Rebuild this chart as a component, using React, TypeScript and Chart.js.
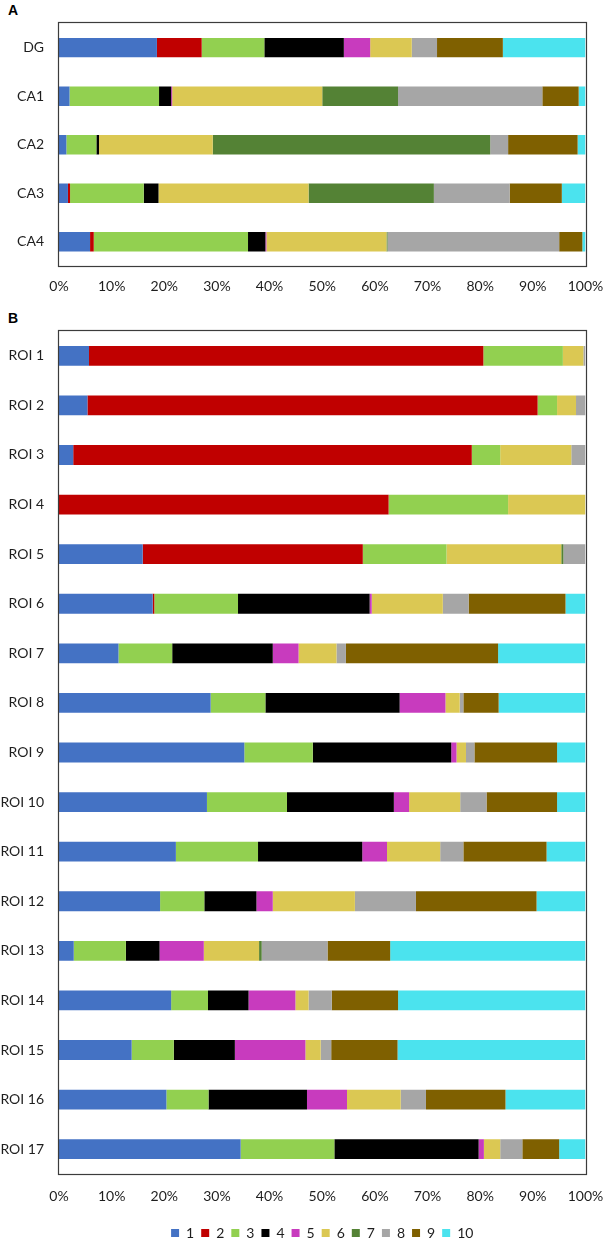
import React, { useEffect, useRef } from 'react';
import { Chart, registerables } from 'chart.js';

Chart.register(...registerables);

// ---------- data ----------
const seriesNames = ['1', '2', '3', '4', '5', '6', '7', '8', '9', '10'];
const seriesColors = ['#4472C4', '#C00000', '#92D050', '#000000', '#C83BBE', '#DBC853', '#548235', '#A6A6A6', '#7F6000', '#4BE3EE'];

const xTickValues = [0, 10, 20, 30, 40, 50, 60, 70, 80, 90, 100];

// Panel A
const panelACategories = ['DG', 'CA1', 'CA2', 'CA3', 'CA4'];
const panelA1 = [18.6, 2.0, 1.4, 1.7, 5.9];
const panelA2 = [8.5, 0, 0, 0.4, 0.7];
const panelA3 = [11.9, 17.0, 5.7, 14.0, 29.3];
const panelA4 = [15.1, 2.3, 0.5, 2.8, 3.3];
const panelA5 = [5.0, 0.2, 0, 0, 0.2];
const panelA6 = [7.9, 28.5, 21.6, 28.5, 22.8];
const panelA7 = [0, 14.4, 52.7, 23.8, 0.2];
const panelA8 = [4.8, 27.4, 3.4, 14.4, 32.6];
const panelA9 = [12.5, 6.9, 13.2, 9.9, 4.4];
const panelA10 = [15.7, 1.3, 1.5, 4.5, 0.6];

// Panel B
const panelBCategories = ['ROI 1', 'ROI 2', 'ROI 3', 'ROI 4', 'ROI 5', 'ROI 6', 'ROI 7', 'ROI 8', 'ROI 9', 'ROI 10', 'ROI 11', 'ROI 12', 'ROI 13', 'ROI 14', 'ROI 15', 'ROI 16', 'ROI 17'];
const panelB1 = [5.7, 5.4, 2.7, 0, 15.9, 17.8, 11.3, 28.8, 35.2, 28.1, 22.2, 19.2, 2.8, 21.3, 13.8, 20.4, 34.5];
const panelB2 = [74.9, 85.5, 75.7, 62.6, 41.8, 0.3, 0, 0, 0, 0, 0, 0, 0, 0, 0, 0, 0];
const panelB3 = [15.1, 3.7, 5.4, 22.7, 15.9, 15.9, 10.2, 10.4, 13.0, 15.2, 15.6, 8.4, 9.9, 7.0, 8.0, 8.0, 17.8];
const panelB4 = [0, 0, 0, 0, 0, 25.0, 19.1, 25.5, 26.3, 20.3, 19.8, 9.9, 6.4, 7.7, 11.6, 18.7, 27.4];
const panelB5 = [0, 0, 0, 0, 0, 0.4, 4.9, 8.7, 1.0, 2.9, 4.7, 3.1, 8.4, 8.9, 13.4, 7.6, 1.0];
const panelB6 = [3.9, 3.6, 13.5, 14.7, 21.8, 13.5, 7.2, 2.7, 1.8, 9.7, 10.1, 15.6, 10.5, 2.5, 2.9, 10.2, 3.1];
const panelB7 = [0, 0, 0, 0, 0.4, 0, 0, 0, 0, 0, 0, 0, 0.5, 0, 0, 0, 0];
const panelB8 = [0.4, 1.8, 2.7, 0, 4.2, 4.9, 1.8, 0.7, 1.6, 5.0, 4.4, 11.6, 12.5, 4.4, 2.0, 4.8, 4.2];
const panelB9 = [0, 0, 0, 0, 0, 18.4, 28.9, 6.7, 15.7, 13.4, 15.8, 22.9, 11.9, 12.6, 12.6, 15.1, 7.0];
const panelB10 = [0, 0, 0, 0, 0, 3.8, 16.6, 16.5, 5.4, 5.4, 7.4, 9.3, 37.1, 35.6, 35.7, 15.2, 5.0];

const panelASeries = [panelA1, panelA2, panelA3, panelA4, panelA5, panelA6, panelA7, panelA8, panelA9, panelA10];
const panelBSeries = [panelB1, panelB2, panelB3, panelB4, panelB5, panelB6, panelB7, panelB8, panelB9, panelB10];

// ---------- helpers ----------
const FONT = 'Lato, "Noto Sans", sans-serif';
const TEXT = '#1e1e1e';

const framePlugin = {
  id: 'frame',
  afterDatasetsDraw(chart: any) {
    const { ctx, chartArea } = chart;
    const { left, top, right, bottom } = chartArea;
    ctx.save();
    ctx.strokeStyle = '#3c3c3c';
    ctx.lineWidth = 1.2;
    ctx.strokeRect(Math.round(left) - 0.5, Math.round(top) - 0.5, Math.round(right - left) + 1, Math.round(bottom - top) + 1);
    ctx.restore();
  },
};

function buildConfig(categories: string[], series: number[][], opts: { padTop: number; xAxisHeight: number; tickPad: number; legend: boolean }) {
  return {
    type: 'bar' as const,
    data: {
      labels: categories,
      datasets: series.map((vals, i) => ({
        label: seriesNames[i],
        data: vals,
        backgroundColor: seriesColors[i],
        borderColor: seriesColors[i],
        borderWidth: 0,
        categoryPercentage: 1,
        barPercentage: 0.4,
      })),
    },
    options: {
      indexAxis: 'y' as const,
      animation: false as const,
      responsive: false,
      maintainAspectRatio: false,
      events: [] as any[],
      layout: { padding: { top: opts.padTop, right: 18.5, left: 0, bottom: 0 } },
      plugins: {
        tooltip: { enabled: false },
        title: { display: false },
        legend: {
          display: opts.legend,
          position: 'bottom' as const,
          fullSize: false,
          labels: {
            font: { family: FONT, size: 14 },
            color: TEXT,
            boxWidth: 8,
            boxHeight: 8,
            padding: 7,
          },
        },
      },
      scales: {
        x: {
          stacked: true,
          min: 0,
          max: 100,
          afterBuildTicks: (scale: any) => {
            scale.ticks = xTickValues.map((v) => ({ value: v }));
          },
          afterFit: (scale: any) => {
            scale.height = opts.xAxisHeight;
            scale.paddingLeft = 0;
            scale.paddingRight = 0;
          },
          grid: { display: false, drawTicks: false },
          border: { display: false },
          ticks: {
            padding: opts.tickPad,
            color: TEXT,
            font: { family: FONT, size: 14 },
            maxRotation: 0,
            autoSkip: false,
            callback: (v: any) => `${v}%`,
          },
        },
        y: {
          stacked: true,
          afterFit: (scale: any) => {
            scale.width = 59;
          },
          grid: { display: false, drawTicks: false },
          border: { display: false },
          ticks: {
            padding: 15,
            color: TEXT,
            font: { family: FONT, size: 14 },
            autoSkip: false,
          },
        },
      },
    },
    plugins: [framePlugin],
  };
}

function Panel({ categories, series, top, height, padTop, xAxisHeight, tickPad, legend }: any) {
  const ref = useRef<HTMLCanvasElement | null>(null);
  useEffect(() => {
    if (!ref.current) return;
    const chart = new Chart(ref.current, buildConfig(categories, series, { padTop, xAxisHeight, tickPad, legend }) as any);
    return () => chart.destroy();
  }, []);
  return (
    <canvas
      ref={ref}
      width={604}
      height={height}
      style={{ position: 'absolute', left: 0, top, width: 604, height }}
    />
  );
}

export default function App() {
  const labelStyle: React.CSSProperties = {
    position: 'absolute',
    left: 8,
    fontFamily: '"Liberation Sans", Arial, sans-serif',
    fontWeight: 'bold',
    fontSize: 14,
    lineHeight: '16px',
    color: '#000',
  };
  return (
    <div style={{ position: 'absolute', left: 0, top: 0, width: 604, height: 1240, overflow: 'hidden', background: '#fff' }}>
      <div style={{ ...labelStyle, top: 2 }}>A</div>
      <div style={{ ...labelStyle, top: 310 }}>B</div>
      <Panel categories={panelACategories} series={panelASeries} top={0} height={300} padTop={23} xAxisHeight={34} tickPad={12} legend={false} />
      <Panel categories={panelBCategories} series={panelBSeries} top={300} height={950} padTop={31} xAxisHeight={45} tickPad={14} legend={true} />
    </div>
  );
}
